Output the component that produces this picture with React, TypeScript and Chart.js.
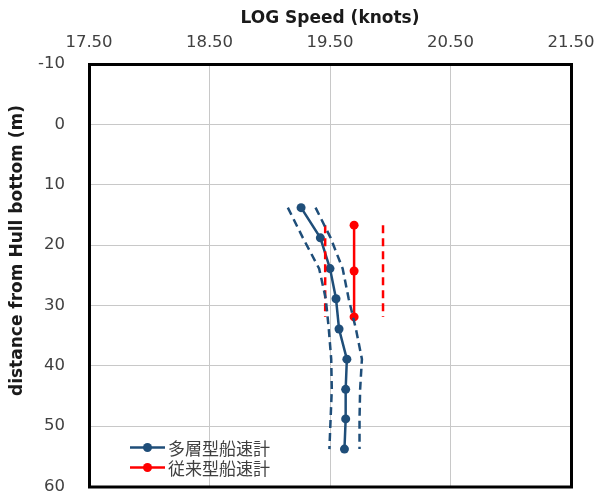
import React, { useEffect, useRef } from "react";
import { Chart, registerables } from "chart.js";

Chart.register(...registerables);

// ---- data ----
const seriesNames = ["多層型船速計", "従来型船速計"];
const xTickValues = [17.5, 18.5, 19.5, 20.5, 21.5];
const yTickValues = [-10, 0, 10, 20, 30, 40, 50, 60];

const multiDepths = [13.8, 18.8, 23.9, 28.9, 33.9, 38.9, 43.9, 48.8, 53.8];
const multiSpeed = [19.26, 19.42, 19.5, 19.55, 19.575, 19.64, 19.63, 19.63, 19.62];
const multiLower = [19.15, 19.275, 19.41, 19.465, 19.49, 19.51, 19.515, 19.505, 19.495];
const multiUpper = [19.38, 19.505, 19.605, 19.655, 19.715, 19.765, 19.75, 19.745, 19.745];

const convDepths = [16.7, 24.3, 31.9];
const convSpeed = [19.7, 19.7, 19.7];
const convLower = [19.46, 19.46, 19.46];
const convUpper = [19.94, 19.94, 19.94];

const BLUE = "#1F4E79";
const RED = "#FF0000";
const GRID = "#C8C8C8";
const TICK_COLOR = "#404040";
const TITLE_COLOR = "#1A1A1A";
const FONT = "'DejaVu Sans', Verdana, sans-serif";
const CJK_FONT = "'Noto Sans CJK JP', 'DejaVu Sans', sans-serif";

const pts = (xs: number[], ys: number[]) => xs.map((x, i) => ({ x, y: ys[i] }));

const framePlugin = {
  id: "frame",
  beforeDatasetsDraw(chart: any) {
    const { ctx, chartArea: a } = chart;
    ctx.save();
    ctx.strokeStyle = "#000000";
    ctx.lineWidth = 3;
    ctx.strokeRect(a.left + 0.5, a.top + 0.5, a.right - a.left, a.bottom - a.top);
    ctx.restore();
  },
};

const yTitlePlugin = {
  id: "yTitle",
  afterDraw(chart: any) {
    const { ctx } = chart;
    ctx.save();
    ctx.translate(17.5, 250.5);
    ctx.rotate(-Math.PI / 2);
    ctx.font = `bold 17px ${FONT}`;
    ctx.fillStyle = TITLE_COLOR;
    ctx.textAlign = "center";
    ctx.textBaseline = "middle";
    ctx.fillText("distance from Hull bottom (m)", 0, 0);
    ctx.restore();
  },
};

const legendPlugin = {
  id: "insideLegend",
  afterDraw(chart: any) {
    const { ctx, chartArea: a } = chart;
    const items = chart.data.datasets.filter((d: any) => d.showInLegend);
    ctx.save();
    items.forEach((d: any, i: number) => {
      const y = a.bottom - 39 + i * 20;
      const x0 = a.left + 41;
      ctx.strokeStyle = d.borderColor;
      ctx.lineWidth = 2.5;
      ctx.setLineDash([]);
      ctx.beginPath();
      ctx.moveTo(x0, y);
      ctx.lineTo(x0 + 35, y);
      ctx.stroke();
      ctx.fillStyle = d.backgroundColor;
      ctx.beginPath();
      ctx.arc(x0 + 17.5, y, 4.5, 0, Math.PI * 2);
      ctx.fill();
      ctx.font = `17px ${CJK_FONT}`;
      ctx.fillStyle = TICK_COLOR;
      ctx.textAlign = "left";
      ctx.textBaseline = "middle";
      ctx.fillText(d.label, x0 + 38, y + 1);
    });
    ctx.restore();
  },
};

export default function App() {
  const canvasRef = useRef<HTMLCanvasElement | null>(null);

  useEffect(() => {
    const canvas = canvasRef.current;
    if (!canvas) return;
    const dashed = (data: any, color: string, label: string) => ({
      label,
      data,
      showLine: true,
      borderColor: color,
      backgroundColor: color,
      borderWidth: 2.5,
      borderDash: [8, 5],
      pointRadius: 0,
      pointHoverRadius: 0,
      showInLegend: false,
    });
    const chart = new Chart(canvas, {
      type: "scatter",
      data: {
        datasets: [
          dashed(pts(multiLower, multiDepths), BLUE, "multi lower"),
          dashed(pts(multiUpper, multiDepths), BLUE, "multi upper"),
          dashed(pts(convLower, convDepths), RED, "conv lower"),
          dashed(pts(convUpper, convDepths), RED, "conv upper"),
          {
            label: seriesNames[0],
            data: pts(multiSpeed, multiDepths),
            showLine: true,
            borderColor: BLUE,
            backgroundColor: BLUE,
            borderWidth: 2.5,
            pointRadius: 4.5,
            pointBorderWidth: 0,
            showInLegend: true,
          } as any,
          {
            label: seriesNames[1],
            data: pts(convSpeed, convDepths),
            showLine: true,
            borderColor: RED,
            backgroundColor: RED,
            borderWidth: 2.5,
            pointRadius: 4.5,
            pointBorderWidth: 0,
            showInLegend: true,
          } as any,
        ] as any,
      },
      options: {
        animation: false,
        responsive: true,
        maintainAspectRatio: false,
        layout: { padding: { top: 0, left: 0, right: 25, bottom: 4 } },
        plugins: {
          legend: { display: false },
          tooltip: { enabled: false },
        },
        scales: {
          x: {
            type: "linear",
            position: "top",
            min: 17.5,
            max: 21.5,
            afterBuildTicks: (s: any) => {
              s.ticks = xTickValues.map((v) => ({ value: v }));
            },
            afterFit: (s: any) => {
              s.height = 64;
              s.paddingLeft = 0;
              s.paddingRight = 0;
            },
            grid: { color: GRID, lineWidth: 1, drawTicks: false },
            border: { display: false },
            ticks: {
              padding: 11,
              color: TICK_COLOR,
              font: { family: FONT, size: 16.5 },
              callback: (v: any) => Number(v).toFixed(2),
              maxRotation: 0,
            },
            title: {
              display: true,
              text: "LOG Speed (knots)",
              color: TITLE_COLOR,
              font: { family: FONT, size: 17, weight: "bold" },
              padding: { top: 8, bottom: 0 },
            },
          },
          y: {
            type: "linear",
            reverse: true,
            min: -10,
            max: 60,
            afterBuildTicks: (s: any) => {
              s.ticks = yTickValues.map((v) => ({ value: v }));
            },
            afterFit: (s: any) => {
              s.width = 89;
              s.paddingTop = 0;
              s.paddingBottom = 0;
            },
            grid: { color: GRID, lineWidth: 1, drawTicks: false },
            border: { display: false },
            ticks: {
              padding: 24,
              color: TICK_COLOR,
              font: { family: FONT, size: 16.5 },
            },
            title: { display: false },
          },
        },
      } as any,
      plugins: [framePlugin, yTitlePlugin, legendPlugin],
    });
    return () => chart.destroy();
  }, []);

  return (
    <div style={{ position: "absolute", left: 0, top: 0, width: 596, height: 491, background: "#fff" }}>
      <canvas ref={canvasRef} />
    </div>
  );
}
